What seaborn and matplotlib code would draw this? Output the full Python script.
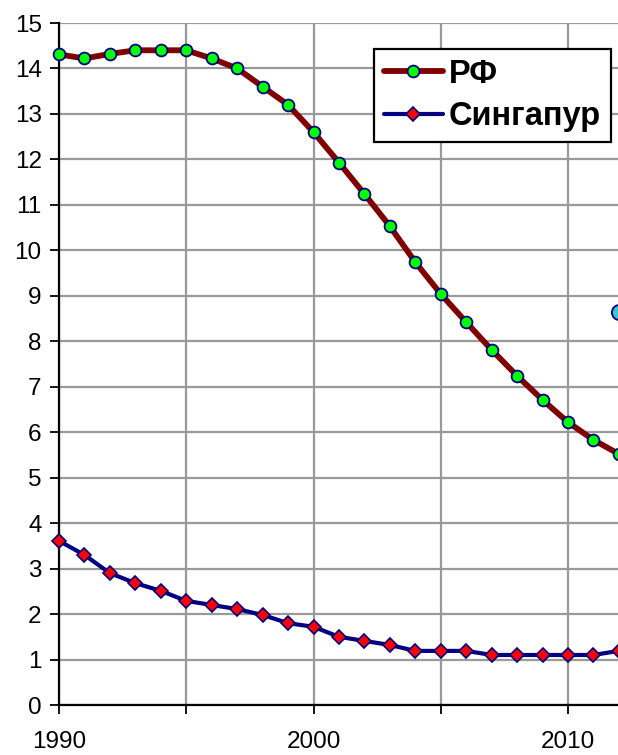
import matplotlib
matplotlib.use("Agg")
import matplotlib.pyplot as plt
import seaborn as sns
import pandas as pd
from matplotlib.lines import Line2D

years = list(range(1990, 2013))
rf = [14.31, 14.22, 14.32, 14.40, 14.40, 14.40, 14.22, 14.00, 13.60, 13.20,
      12.60, 11.93, 11.24, 10.53, 9.74, 9.04, 8.42, 7.81, 7.24, 6.71,
      6.22, 5.83, 5.52]
sing = [3.61, 3.30, 2.90, 2.68, 2.51, 2.29, 2.20, 2.11, 1.98, 1.80,
        1.72, 1.50, 1.41, 1.32, 1.19, 1.19, 1.19, 1.10, 1.10, 1.10,
        1.10, 1.10, 1.19]
extra_x = [2012]
extra_y = [8.65]
series_names = ["РФ", "Сингапур"]
xtick_vals = [1990, 1995, 2000, 2005, 2010]
xtick_labels = ["1990", "", "2000", "", "2010"]
ytick_vals = list(range(0, 16))

sns.set_theme(style="white")
plt.rcParams['font.family'] = ['Liberation Sans', 'DejaVu Sans']
plt.rcParams['text.color'] = 'black'

W, H, DPI = 618, 755, 100
fig = plt.figure(figsize=(W / DPI, H / DPI), dpi=DPI)
px_per_year = 25.45
x0 = 59
x_right = 2013
ax = fig.add_axes([x0 / W, 50 / H, (x_right - 1990) * px_per_year / W, 682 / H])

df = pd.DataFrame({"year": years, "rf": rf, "sing": sing})

sns.lineplot(data=df, x="year", y="rf", ax=ax, color="#800000", lw=4.2,
             marker="o", markersize=8.5, markerfacecolor="#00FF00",
             markeredgecolor="#000080", markeredgewidth=1.3, zorder=4,
             clip_on=False)
sns.lineplot(data=df, x="year", y="sing", ax=ax, color="#000080", lw=3.0,
             marker="D", markersize=7, markerfacecolor="#FF0000",
             markeredgecolor="#000080", markeredgewidth=1.2, zorder=4,
             clip_on=False)
sns.scatterplot(x=extra_x, y=extra_y, ax=ax, color="#33CCCC", s=120,
                edgecolor="#000080", linewidth=1.3, zorder=5, clip_on=False)

ax.set_xlim(1990, x_right)
ax.set_ylim(0, 15)
ax.set_xticks(xtick_vals)
ax.set_xticklabels(xtick_labels)
ax.set_yticks(ytick_vals)
ax.set_yticklabels([str(v) for v in ytick_vals])
ax.set_xlabel("")
ax.set_ylabel("")

ax.grid(True, color="#999999", lw=1.6)
ax.set_axisbelow(True)
for s in ["top", "right"]:
    ax.spines[s].set_visible(False)
for s in ["left", "bottom"]:
    ax.spines[s].set_color("black")
    ax.spines[s].set_linewidth(1.6)
    ax.spines[s].set_zorder(3)
ax.tick_params(axis="both", which="major", direction="out", length=6.5,
               width=1.3, color="black", labelsize=17.5, labelcolor="black",
               bottom=True, left=True)
ax.tick_params(axis="x", pad=12)
ax.tick_params(axis="y", pad=6)

handles = [
    Line2D([], [], color="#800000", lw=4.2, marker="o", markersize=8.5,
           markerfacecolor="#00FF00", markeredgecolor="#000080", markeredgewidth=1.3),
    Line2D([], [], color="#000080", lw=3.0, marker="D", markersize=7,
           markerfacecolor="#FF0000", markeredgecolor="#000080", markeredgewidth=1.2),
]
leg = fig.legend(handles, series_names, loc="upper left",
                 bbox_to_anchor=(374 / W, 1 - 49 / H),
                 prop={"weight": "bold", "size": 23.5}, frameon=True,
                 fancybox=False, edgecolor="black", framealpha=1,
                 labelcolor="black",
                 handlelength=1.8, handletextpad=0.2, borderpad=0.3,
                 labelspacing=0.35, borderaxespad=0)
leg.get_frame().set_linewidth(1.6)

fig.savefig("out.png", dpi=DPI)
